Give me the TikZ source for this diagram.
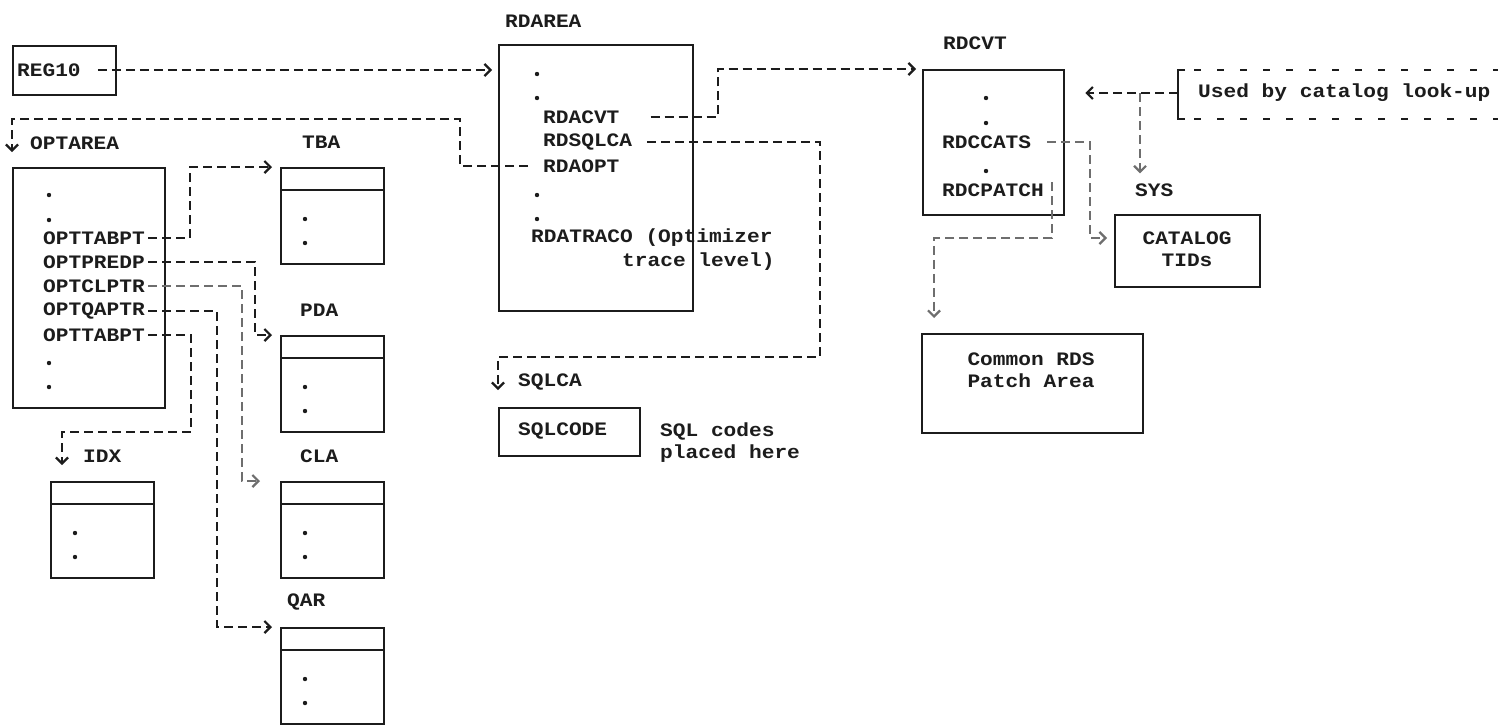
\documentclass[tikz,border=0pt]{standalone}
\usepackage{fontspec}
\newfontfamily\scanfont[FakeStretch=1.114]{Liberation Mono}
\usepackage{xcolor}
\usetikzlibrary{arrows.meta,positioning,calc}
\definecolor{paper}{HTML}{FFFFFF}
\definecolor{ink}{HTML}{1C1C1C}
\definecolor{inkgray}{HTML}{6E6E6E}
\tikzset{
  lbl/.style={anchor=west,inner sep=0pt,text=ink,
              font=\scanfont\bfseries\fontsize{19}{22}\selectfont},
  areabox/.style={draw=ink,line width=2.3pt,inner sep=0pt,anchor=north west},
  tablebox/.style={areabox,minimum width=103pt,minimum height=96pt},
  ptrarr/.style={-{Straight Barb[length=6pt,width=12pt,line width=2.2pt]},
                 draw=ink,line width=2.2pt,dash pattern=on 9pt off 5pt},
  notedash/.style={draw=ink,line width=1.8pt,dash pattern=on 7pt off 16pt}
}

\begin{document}
\begin{tikzpicture}[x=1pt,y=-1pt]
  \useasboundingbox[fill=paper] (0,0) rectangle (1498,724);

  % register and option area
  \node[areabox,minimum width=103pt,minimum height=49pt] (reg10) at (12,45) {};
  \node[lbl] (reg10-txt) at (17,70) {REG10};
  \node[lbl] (optarea-lbl) at (30,143) {OPTAREA};
  \node[areabox,minimum width=152pt,minimum height=240pt] (optarea) at (12,167) {};
  \fill[ink] (49,195) circle (2.2pt) (49,220) circle (2.2pt)
             (49,363) circle (2.2pt) (49,387) circle (2.2pt);
  \node[lbl] (opttabpt) at (43,238) {OPTTABPT};
  \node[lbl] (optpredp) at (43,262) {OPTPREDP};
  \node[lbl] (optclptr) at (43,286) {OPTCLPTR};
  \node[lbl] (optqaptr) at (43,311) {OPTQAPTR};
  \node[lbl] (opttabptb) at (43,335) {OPTTABPT};

  % small tables hanging off OPTAREA
  \foreach \nm/\px/\py/\ttl/\lx in {tba/280/167/TBA/302, pda/280/335/PDA/300,
      cla/280/481/CLA/300, qar/280/627/QAR/287, idx/50/481/IDX/83} {
    \node[tablebox] (\nm) at (\px,\py) {};
    \draw[ink,line width=2.3pt] ($(\nm.north west)+(0,23)$) -- ($(\nm.north east)+(0,23)$);
    \fill[ink] ($(\nm.north west)+(25,52)$) circle (2.2pt)
               ($(\nm.north west)+(25,76)$) circle (2.2pt);
    \node[lbl] (\nm-lbl) at (\lx,{\py-25}) {\ttl};
  }

  % RDAREA
  \node[lbl] (rdarea-lbl) at (505,21) {RDAREA};
  \node[areabox,minimum width=194pt,minimum height=266pt] (rdarea) at (498,44) {};
  \fill[ink] (537,74) circle (2.2pt) (537,98) circle (2.2pt)
             (537,195) circle (2.2pt) (537,219) circle (2.2pt);
  \node[lbl] (rdacvt) at (543,117) {RDACVT};
  \node[lbl] (rdsqlca) at (543,142) {RDSQLCA};
  \node[lbl] (rdaopt) at (543,166) {RDAOPT};
  \node[lbl] (rdatraco) at (531,238) {RDATRACO (Optimizer};
  \node[lbl] (rdatraco-b) at (622,262) {trace level)};

  % SQLCA
  \node[lbl] (sqlca-lbl) at (518,382) {SQLCA};
  \node[areabox,minimum width=141pt,minimum height=48pt] (sqlcode) at (498,407) {};
  \node[lbl] (sqlcode-txt) at (518,431) {SQLCODE};
  \node[lbl] (sqlnote) at (660,431) {SQL codes};
  \node[lbl] (sqlnote-b) at (660,454) {placed here};

  % RDCVT and catalog
  \node[lbl] (rdcvt-lbl) at (943,43) {RDCVT};
  \node[areabox,minimum width=141pt,minimum height=145pt] (rdcvt) at (922,69) {};
  \fill[ink] (986,98) circle (2.2pt) (986,123) circle (2.2pt) (986,171) circle (2.2pt);
  \node[lbl] (rdccats) at (942,142) {RDCCATS};
  \node[lbl] (rdcpatch) at (942,190) {RDCPATCH};
  \node[lbl] (sys-lbl) at (1135,190) {SYS};
  \node[areabox,minimum width=145pt,minimum height=72pt] (catalog) at (1114,214) {};
  \node[lbl,anchor=center,align=center] (catalog-txt) at (1187,249) {CATALOG\\TIDs};
  \node[areabox,minimum width=221pt,minimum height=99pt] (common) at (921,333) {};
  \node[lbl,anchor=center,align=center] (common-txt) at (1031,370) {Common RDS\\Patch Area};

  % note box on the right
  \node[lbl] (usedby) at (1198,93) {Used by catalog look-up};
  \draw[ink,line width=2.3pt] (1185,70) -- (1178,70) -- (1178,119) -- (1185,119);
  \draw[notedash] (1194,70) -- (1498,70) (1194,119) -- (1498,119);
  \coordinate (brk) at (1178,93);
  \coordinate (tee) at (1140,93);

  % pointers
  \draw[ptrarr] ($(reg10-txt.east)+(17,0)$) -- ($(rdarea.west |- reg10-txt.east)+(-6,0)$);
  \draw[ptrarr] ($(rdaopt.west)+(-15,0)$) -| (460,119) -| ($(optarea.north west)+(0,-15)$);
  \draw[ptrarr] ($(rdacvt.east)+(31,0)$) -| (718,69) -- ($(rdcvt.north west)+(-6,0)$);
  \draw[ptrarr] ($(rdsqlca.east)+(15,0)$) -| (820,357) -| ($(sqlcode.north west)+(0,-17)$);
  \draw[ptrarr] ($(opttabpt.east)+(3,0)$) -| (190,167) -- ($(tba.north west)+(-8,0)$);
  \draw[ptrarr] ($(optpredp.east)+(3,0)$) -| (255,335) -- ($(pda.north west)+(-8,0)$);
  \draw[ptrarr,draw=inkgray] ($(optclptr.east)+(3,0)$) -| (242,481) -- ($(cla.north west)+(-20,0)$);
  \draw[ptrarr] ($(optqaptr.east)+(3,0)$) -| (217,627) -- ($(qar.north west)+(-8,0)$);
  \draw[ptrarr] ($(opttabptb.east)+(3,0)$) -| (191,432) -| ($(idx.north west)+(12,-16)$);
  \draw[ptrarr,draw=inkgray] ($(rdccats.east)+(16,0)$) -| (1090,238) -- ($(catalog.north west)+(-7,24)$);
  \draw[ptrarr,draw=inkgray] ($(rdcpatch.east)+(8,-8)$) |- (934,238) -- ($(common.north west)+(13,-15)$);
  \draw[ptrarr] (brk) -- ($(rdcvt.east |- brk)+(20,0)$);
  \draw[ptrarr,draw=inkgray] (tee) -- ($(tee |- sys-lbl.north)+(0,-10)$);
\end{tikzpicture}
\end{document}
